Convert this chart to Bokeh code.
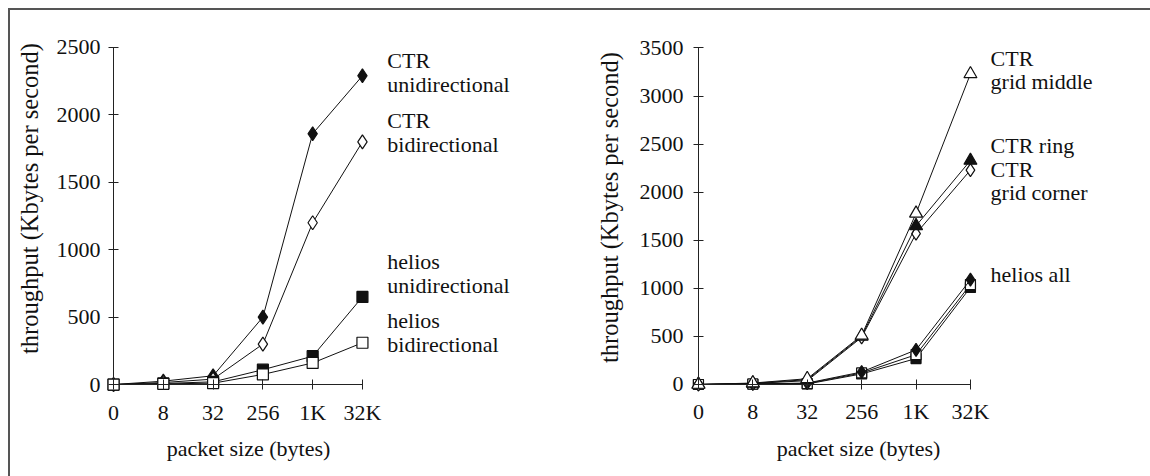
from bokeh.plotting import figure
from bokeh.layouts import row
from bokeh.models import FixedTicker, Label, Range1d
from bokeh.core.properties import value
from bokeh.embed import file_html
from bokeh.resources import INLINE

FONT = "Liberation Serif"

# ---- data ----
packet_sizes = ["0", "8", "32", "256", "1K", "32K"]
xpos = [0, 1, 2, 3, 4, 5]

# left chart
ctr_uni = [0, 25, 65, 500, 1860, 2290]
ctr_bi = [0, 15, 40, 300, 1200, 1800]
helios_uni = [0, 8, 20, 110, 210, 650]
helios_bi = [0, 5, 10, 75, 160, 310]
left_yticks = [0, 500, 1000, 1500, 2000, 2500]

# right chart
ctr_grid_middle = [0, 15, 60, 510, 1780, 3230]
ctr_ring = [0, 12, 50, 500, 1650, 2330]
ctr_grid_corner = [0, 10, 40, 490, 1570, 2230]
helios_ring = [0, 6, 15, 130, 360, 1090]
helios_grid_corner = [0, 5, 10, 120, 310, 1040]
helios_grid_middle = [0, 4, 5, 110, 270, 1010]
right_yticks = [0, 500, 1000, 1500, 2000, 2500, 3000, 3500]

left_labels = [["CTR", "unidirectional"], ["CTR", "bidirectional"],
               ["helios", "unidirectional"], ["helios", "bidirectional"]]
left_label_y = [2403, 1958, 912, 474]
right_labels = [["CTR", "grid middle"], ["CTR ring"], ["CTR", "grid corner"], ["helios all"]]
right_label_y = [3390, 2485, 2236, 1144]

TXT = "22px"


def make_fig(width, xr, yr, yticks):
    p = figure(width=width, height=466, x_range=Range1d(*xr), y_range=Range1d(*yr),
               output_backend="svg", toolbar_location=None, title=None,
               min_border=0, min_border_left=0, min_border_right=0,
               min_border_top=0, min_border_bottom=0)
    p.outline_line_color = None
    p.grid.visible = False
    p.background_fill_color = "white"
    p.border_fill_color = "white"
    for ax in (p.xaxis, p.yaxis):
        ax.axis_line_color = "#222222"
        ax.major_tick_line_color = "#222222"
        ax.minor_tick_line_color = None
        ax.major_tick_in = 5
        ax.major_tick_out = 5
        ax.major_label_text_font = FONT
        ax.major_label_text_font_size = TXT
        ax.major_label_text_color = "#111111"
    p.xaxis.fixed_location = 0
    p.yaxis.fixed_location = 0
    p.xaxis.bounds = (0, 5)
    p.yaxis.bounds = (yticks[0], yticks[-1])
    p.xaxis.ticker = FixedTicker(ticks=xpos)
    p.xaxis.major_label_overrides = {x: s for x, s in zip(xpos, packet_sizes)}
    p.yaxis.ticker = FixedTicker(ticks=yticks)
    p.xaxis.major_label_standoff = 10
    return p


def series(p, ys, marker, fill, size):
    p.line(xpos, ys, line_color="#111111", line_width=1)
    p.scatter(xpos, ys, marker=marker, size=size, line_color="#111111",
              fill_color=fill, line_width=1.2)


def add_labels(p, texts, ys, x, spacing):
    for lines, y in zip(texts, ys):
        for i, t in enumerate(lines):
            p.text([x], [y], text=[t], text_font=value(FONT), text_font_size=TXT,
                   text_color="#111111", text_baseline="alphabetic", text_align="left",
                   y_offset=i * spacing)


# left chart: frame covers whole figure (page x 10..575)
p1 = make_fig(565, (-2.07, 9.28), (-682, 2774), left_yticks)
p1.yaxis.major_label_standoff = 8
series(p1, ctr_uni, "diamond", "#111111", 14)
series(p1, ctr_bi, "diamond", "white", 14)
series(p1, helios_uni, "square", "#111111", 11)
series(p1, helios_bi, "square", "white", 11)
add_labels(p1, left_labels, left_label_y, 5.5, 24)
p1.add_layout(Label(x=238, y=28, x_units="screen", y_units="screen",
                    text="packet size (bytes)", text_font=FONT, text_font_size=TXT,
                    text_align="center", text_baseline="middle", text_color="#111111"))
p1.add_layout(Label(x=19, y=278, x_units="screen", y_units="screen",
                    text="throughput (Kbytes per second)", text_font=FONT,
                    text_font_size="24.5px", angle=90, angle_units="deg",
                    text_align="center", text_baseline="middle", text_color="#111111"))

# right chart (page x 575..1150)
p2 = make_fig(575, (-2.26, 8.31), (-957, 3890), right_yticks)
p2.yaxis.major_label_standoff = 10
series(p2, helios_grid_middle, "square", "#111111", 10)
series(p2, helios_grid_corner, "square", "white", 10)
series(p2, helios_ring, "diamond", "#111111", 13)
series(p2, ctr_grid_corner, "diamond", "white", 13)
series(p2, ctr_ring, "triangle", "#111111", 13)
series(p2, ctr_grid_middle, "triangle", "white", 13)
add_labels(p2, right_labels, right_label_y, 5.37, 23)
p2.add_layout(Label(x=283, y=28, x_units="screen", y_units="screen",
                    text="packet size (bytes)", text_font=FONT, text_font_size=TXT,
                    text_align="center", text_baseline="middle", text_color="#111111"))
p2.add_layout(Label(x=34, y=269, x_units="screen", y_units="screen",
                    text="throughput (Kbytes per second)", text_font=FONT,
                    text_font_size="24.5px", angle=90, angle_units="deg",
                    text_align="center", text_baseline="middle", text_color="#111111"))

layout = row(p1, p2, styles={"margin-left": "8px", "margin-top": "8px",
                             "border-top": "2px solid #555555",
                             "border-left": "2px solid #555555"})

open("out.html", "w").write(file_html(layout, INLINE))
